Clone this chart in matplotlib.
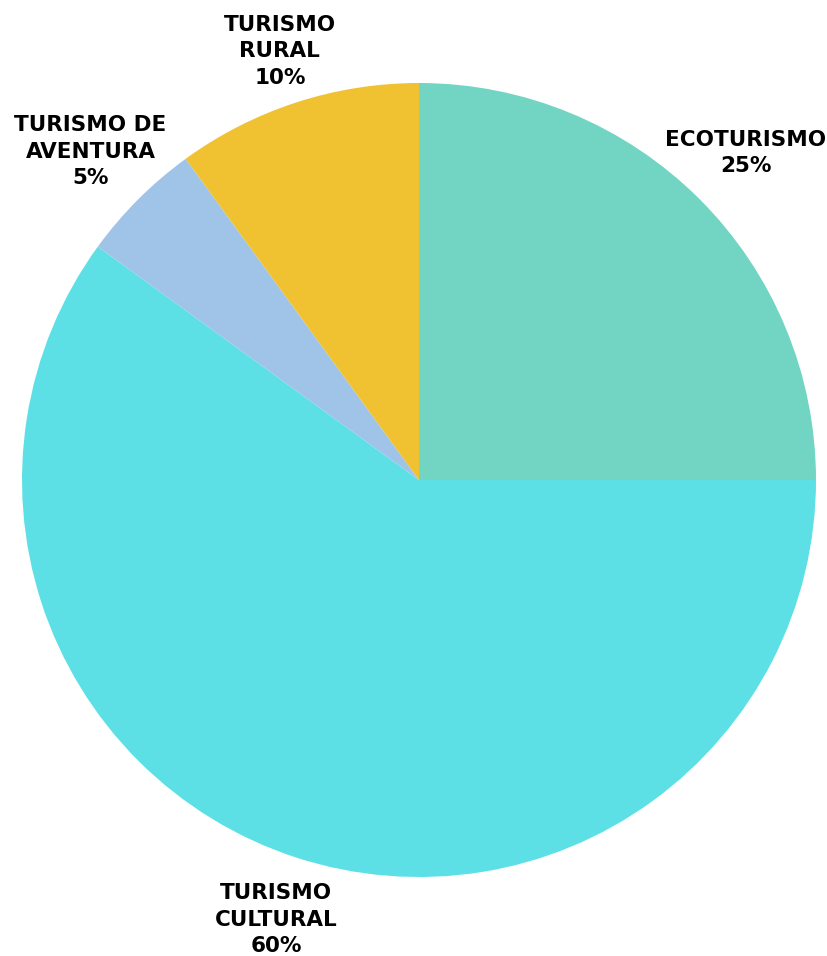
import matplotlib.pyplot as plt
import numpy as np

categories = ['ECOTURISMO', 'TURISMO\nCULTURAL', 'TURISMO DE\nAVENTURA', 'TURISMO\nRURAL']
shares = [25, 60, 5, 10]
colors = ['#72D5C4', '#5DE0E5', '#9FC4E8', '#F0C232']

fig = plt.figure(figsize=(8.28, 9.56), dpi=100)
cx, cy, r = 419, 480, 397
W, H = 828, 956
ax = fig.add_axes([(cx - r) / W, (H - cy - r) / H, 2 * r / W, 2 * r / H])

wedges, _ = ax.pie(shares, colors=colors, startangle=90, counterclock=False,
                   radius=1, wedgeprops=dict(linewidth=0))

# label distance from centre, per wedge
label_dist = [1.165, 1.165, 1.17, 1.135]
for w, name, val, d in zip(wedges, categories, shares, label_dist):
    mid = np.deg2rad((w.theta1 + w.theta2) / 2)
    ax.text(d * np.cos(mid), d * np.sin(mid), f'{name}\n{val}%',
            ha='center', va='center', fontsize=15.5, fontweight='bold',
            family='DejaVu Sans', color='#000000', linespacing=1.4)

ax.set_xlim(-1, 1)
ax.set_ylim(-1, 1)
ax.set_aspect('equal')
ax.axis('off')

fig.savefig('out.png', dpi=100)
